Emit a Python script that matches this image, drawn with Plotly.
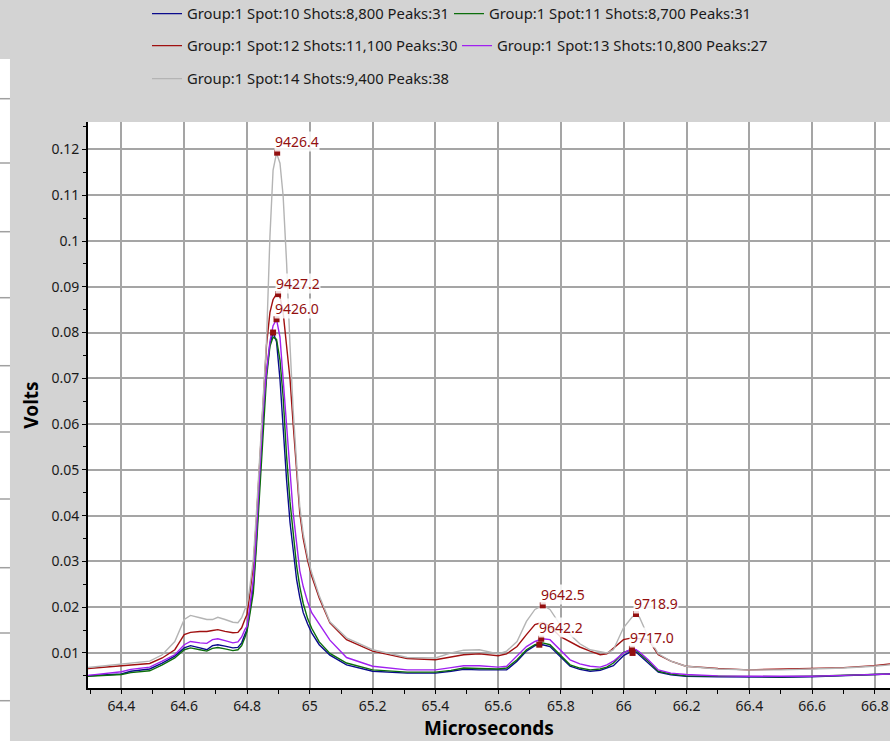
import plotly.graph_objects as go

# ---- data ----
x_us = [64.293, 64.35, 64.40, 64.43, 64.49, 64.53, 64.57, 64.60, 64.62, 64.65,
        64.672, 64.69, 64.707, 64.73, 64.755, 64.771, 64.783, 64.793, 64.80, 64.808,
        64.82, 64.83, 64.841, 64.851, 64.862, 64.873, 64.883, 64.894, 64.905, 64.915,
        64.926, 64.937, 64.947, 64.958, 64.968, 64.979, 64.993, 65.006, 65.03, 65.064,
        65.117, 65.20, 65.31, 65.40, 65.45, 65.49, 65.54, 65.60, 65.627, 65.66,
        65.69, 65.717, 65.742, 65.765, 65.797, 65.829, 65.86, 65.893, 65.925, 65.946,
        65.967, 65.999, 66.026, 66.039, 66.05, 66.078, 66.11, 66.15, 66.198, 66.30,
        66.397, 66.50, 66.597, 66.70, 66.797, 66.848]

spot10 = [0.0050, 0.0052, 0.0054, 0.0060, 0.0065, 0.0078, 0.0093, 0.0111, 0.0116, 0.0111,
          0.0107, 0.0116, 0.0118, 0.0115, 0.0111, 0.0112, 0.0122, 0.0140, 0.0151, 0.0188,
          0.0246, 0.0348, 0.0479, 0.0610, 0.0712, 0.0775, 0.0800, 0.0780, 0.0698, 0.0585,
          0.0478, 0.0385, 0.0322, 0.0260, 0.0222, 0.0188, 0.0163, 0.0144, 0.0118, 0.0095,
          0.0074, 0.0060, 0.0056, 0.0056, 0.0060, 0.0064, 0.0063, 0.0062, 0.0063, 0.0082,
          0.0104, 0.0116, 0.0118, 0.0114, 0.0093, 0.0071, 0.0064, 0.0060, 0.0062, 0.0067,
          0.0072, 0.0094, 0.0104, 0.0102, 0.0095, 0.0078, 0.0058, 0.0052, 0.0049, 0.0048,
          0.0047, 0.0047, 0.0048, 0.0050, 0.0053, 0.0054]

spot11 = [0.0049, 0.0051, 0.0053, 0.0057, 0.0061, 0.0074, 0.0089, 0.0107, 0.0111, 0.0107,
          0.0104, 0.0110, 0.0112, 0.0109, 0.0105, 0.0107, 0.0116, 0.0133, 0.0147, 0.0180,
          0.0231, 0.0333, 0.0457, 0.0596, 0.0700, 0.0770, 0.0790, 0.0785, 0.0740, 0.0660,
          0.0530, 0.0430, 0.0355, 0.0290, 0.0245, 0.0208, 0.0175, 0.0154, 0.0124, 0.0099,
          0.0078, 0.0063, 0.0058, 0.0058, 0.0062, 0.0067, 0.0066, 0.0065, 0.0067, 0.0085,
          0.0107, 0.0118, 0.0122, 0.0118, 0.0096, 0.0074, 0.0067, 0.0063, 0.0065, 0.0069,
          0.0078, 0.0101, 0.0107, 0.0106, 0.0099, 0.0082, 0.0060, 0.0054, 0.0050, 0.0049,
          0.0048, 0.0048, 0.0049, 0.0051, 0.0054, 0.0054]

spot12 = [0.0066, 0.0069, 0.0072, 0.0073, 0.0077, 0.0089, 0.0107, 0.0140, 0.0145, 0.0147,
          0.0147, 0.0149, 0.0151, 0.0147, 0.0144, 0.0145, 0.0155, 0.0173, 0.0184, 0.0224,
          0.0290, 0.0392, 0.0516, 0.0654, 0.0772, 0.0844, 0.0872, 0.0884, 0.0878, 0.0844,
          0.0770, 0.0698, 0.0600, 0.0500, 0.0406, 0.0350, 0.0302, 0.0268, 0.0220, 0.0166,
          0.0129, 0.0104, 0.0088, 0.0085, 0.0092, 0.0096, 0.0098, 0.0094, 0.0098, 0.0114,
          0.0140, 0.0162, 0.0167, 0.0158, 0.0136, 0.0125, 0.0113, 0.0104, 0.0096, 0.0098,
          0.0111, 0.0129, 0.0133, 0.0132, 0.0131, 0.0129, 0.0096, 0.0082, 0.0071, 0.0066,
          0.0063, 0.0064, 0.0066, 0.0068, 0.0072, 0.0076]

spot13 = [0.0051, 0.0055, 0.0059, 0.0064, 0.0069, 0.0082, 0.0096, 0.0118, 0.0125, 0.0122,
          0.0121, 0.0129, 0.0131, 0.0127, 0.0122, 0.0124, 0.0135, 0.0151, 0.0158, 0.0195,
          0.0260, 0.0363, 0.0487, 0.0625, 0.0715, 0.0780, 0.0815, 0.0829, 0.0790, 0.0698,
          0.0600, 0.0500, 0.0406, 0.0340, 0.0280, 0.0245, 0.0212, 0.0188, 0.0162, 0.0128,
          0.0090, 0.0071, 0.0063, 0.0063, 0.0068, 0.0072, 0.0072, 0.0069, 0.0071, 0.0093,
          0.0114, 0.0125, 0.0131, 0.0129, 0.0107, 0.0085, 0.0076, 0.0071, 0.0069, 0.0074,
          0.0082, 0.0100, 0.0109, 0.0107, 0.0102, 0.0085, 0.0063, 0.0056, 0.0053, 0.0050,
          0.0049, 0.0049, 0.0049, 0.0051, 0.0054, 0.0054]

spot14 = [0.0068, 0.0072, 0.0076, 0.0078, 0.0082, 0.0096, 0.0125, 0.0173, 0.0182, 0.0177,
          0.0173, 0.0173, 0.0178, 0.0173, 0.0167, 0.0166, 0.0177, 0.0195, 0.0205, 0.0239,
          0.0304, 0.0406, 0.0530, 0.0669, 0.0780, 0.1010, 0.1155, 0.1192, 0.1170, 0.1099,
          0.0953, 0.0771, 0.0630, 0.0515, 0.0420, 0.0360, 0.0310, 0.0275, 0.0225, 0.0168,
          0.0133, 0.0107, 0.0090, 0.0089, 0.0100, 0.0106, 0.0107, 0.0098, 0.0104, 0.0125,
          0.0169, 0.0195, 0.0204, 0.0195, 0.0162, 0.0140, 0.0120, 0.0107, 0.0102, 0.0100,
          0.0107, 0.0155, 0.0178, 0.0185, 0.0178, 0.0135, 0.0098, 0.0082, 0.0071, 0.0065,
          0.0063, 0.0063, 0.0065, 0.0067, 0.0071, 0.0074]

series_names = ["Group:1 Spot:10 Shots:8,800 Peaks:31",
                "Group:1 Spot:11 Shots:8,700 Peaks:31",
                "Group:1 Spot:12 Shots:11,100 Peaks:30",
                "Group:1 Spot:13 Shots:10,800 Peaks:27",
                "Group:1 Spot:14 Shots:9,400 Peaks:38"]
series_values = [spot10, spot11, spot12, spot13, spot14]
series_colors = ["#0A0A8C", "#0B6E0B", "#A01010", "#A020F0", "#B4B4B4"]
series_legends = ["legend", "legend", "legend2", "legend2", "legend3"]
series_legendwidth = [257, None, 265, None, None]

peak_x = [64.896, 64.899, 64.894, 64.883, 65.742, 65.737, 65.731, 66.039, 66.026, 66.028]
peak_y = [0.1193, 0.0884, 0.0829, 0.0800, 0.0204, 0.0131, 0.0118, 0.0185, 0.0109, 0.0100]
peak_text = ["9426.4", "9427.2", "9426.0", "", "9642.5", "9642.2", "", "9718.9", "9717.0", ""]

y_ticks = [0.01, 0.02, 0.03, 0.04, 0.05, 0.06, 0.07, 0.08, 0.09, 0.1, 0.11, 0.12]
y_tick_text = ["0.01", "0.02", "0.03", "0.04", "0.05", "0.06", "0.07", "0.08", "0.09", "0.1", "0.11", "0.12"]

FONT = "Noto Sans"
LABEL_RED = "#930F0F"

fig = go.Figure()
for name, vals, col, leg, lw in zip(series_names, series_values, series_colors,
                                    series_legends, series_legendwidth):
    tr = go.Scatter(x=x_us, y=vals, mode="lines", name=name,
                    line=dict(color=col, width=1.4), legend=leg)
    if lw:
        tr.legendwidth = lw
    fig.add_trace(tr)

fig.add_trace(go.Scatter(x=peak_x, y=peak_y, mode="markers", showlegend=False,
                         marker=dict(symbol="square", size=6, color=LABEL_RED)))

for px_, py_, t in zip(peak_x, peak_y, peak_text):
    if t:
        fig.add_annotation(x=px_, y=py_, text=t, showarrow=False, xanchor="left",
                           yanchor="middle", xshift=-3, yshift=11,
                           font=dict(family=FONT, size=14, color=LABEL_RED),
                           bgcolor="rgba(255,255,255,0.85)", borderpad=0)

# left window strip artefact
shapes = [dict(type="rect", xref="paper", yref="paper", x0=-0.1098, x1=-0.0973,
               y0=-0.0936, y1=1.1113, fillcolor="white", line=dict(width=0), layer="below")]
for py in [98.7, 163, 231.7, 297.7, 365.7, 432, 499, 567.7, 633, 700.7]:
    yy = (688 - py) / 566
    shapes.append(dict(type="line", xref="paper", yref="paper", x0=-0.1098, x1=-0.0973,
                       y0=yy, y1=yy, line=dict(color="#A0A0A0", width=1.5)))

leg_common = dict(orientation="h", xref="container", yref="container", xanchor="left",
                  yanchor="middle", bgcolor="rgba(0,0,0,0)",
                  font=dict(family=FONT, size=14.8, color="#1A1A1A"))

fig.update_layout(
    width=890, height=741,
    margin=dict(l=88, r=0, t=122, b=53, autoexpand=False),
    paper_bgcolor="#D3D3D3", plot_bgcolor="white",
    font=dict(family=FONT, size=14, color="#1A1A1A"),
    shapes=shapes,
    legend=dict(x=147/890, y=1 - 14/741, **leg_common),
    legend2=dict(x=147/890, y=1 - 46/741, **leg_common),
    legend3=dict(x=147/890, y=1 - 79/741, **leg_common),
    xaxis=dict(range=[64.2935, 66.848], tick0=64.4, dtick=0.2,
               showgrid=True, gridcolor="#A5A5A5", gridwidth=2,
               showline=True, linecolor="black", linewidth=2,
               ticks="outside", ticklen=4, tickcolor="black",
               minor=dict(dtick=0.1, tick0=64.3, ticks="outside", ticklen=4,
                          tickcolor="black", showgrid=False),
               zeroline=False,
               tickfont=dict(family=FONT, size=14, color="#1A1A1A"),
               title=dict(text="<b>Microseconds</b>", font=dict(family=FONT, size=19, color="black"),
                          standoff=6)),
    yaxis=dict(range=[0.00234, 0.126], tickvals=y_ticks, ticktext=y_tick_text,
               showgrid=True, gridcolor="#A5A5A5", gridwidth=2,
               showline=True, linecolor="black", linewidth=2,
               ticks="outside", ticklen=4, tickcolor="black",
               minor=dict(dtick=0.005, tick0=0, ticks="outside", ticklen=3,
                          tickcolor="black", showgrid=False),
               zeroline=False,
               tickfont=dict(family=FONT, size=14, color="#1A1A1A"),
               title=dict(text="<b>Volts</b>", font=dict(family=FONT, size=19, color="black"),
                          standoff=8)),
)

fig.write_html("out.html", config={"displayModeBar": False},
               post_script="document.body.style.margin='0';document.body.style.padding='0';")
